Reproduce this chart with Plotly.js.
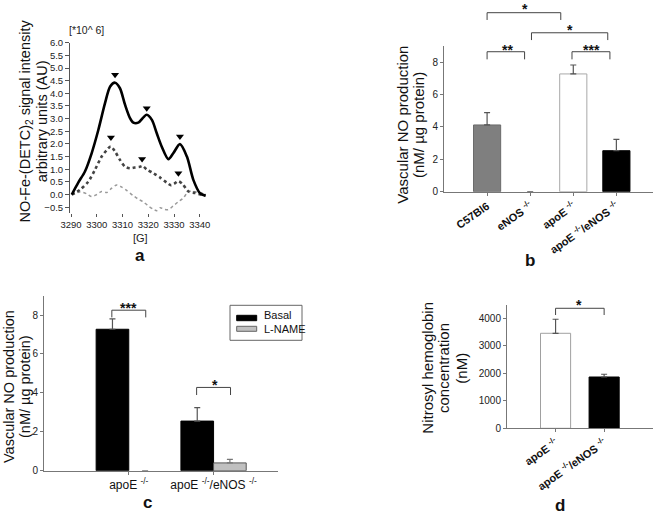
<!DOCTYPE html>
<html><head><meta charset="utf-8">
<script src="https://cdn.plot.ly/plotly-3.0.1.min.js"></script>
<style>html,body{margin:0;padding:0;background:#fff}#chart{width:662px;height:514px}</style>
</head><body><div id="chart"></div>
<script>
// ---------- Panel a: EPR spectra ----------
const fieldBlack = [3290.3,3292.8,3295.4,3298.0,3300.6,3303.2,3305.2,3307.1,3309.0,3311.0,3312.9,3314.2,3316.1,3318.1,3319.4,3321.4,3323.3,3325.2,3327.8,3329.7,3332.3,3335.0,3337.5,3340.1,3342.3];
const signalBlack = [0,0.47,0.91,1.63,2.55,3.61,4.27,4.42,4.2,3.54,3.02,2.84,2.84,3.05,3.15,2.95,2.42,1.9,1.40,1.63,1.99,1.5,0.58,0.05,-0.05];
const fieldDark = [3290.3,3293.5,3296.7,3299.3,3301.9,3303.9,3305.4,3307.1,3309.0,3311.0,3312.9,3314.8,3316.8,3317.8,3319.4,3322.0,3324.6,3327.2,3328.8,3330.0,3331.7,3333.4,3335.6,3338.2,3340.8,3342.1];
const signalDark = [0,0.19,0.51,0.98,1.5,1.76,1.9,1.7,1.37,1.1,1.04,1.07,1.1,1.13,0.99,0.84,0.67,0.47,0.37,0.42,0.53,0.4,0.12,0.06,-0.01,-0.04];
const fieldLight = [3290.3,3293.5,3296.1,3298.0,3300.0,3301.9,3303.9,3305.8,3307.8,3309.7,3311.6,3314.2,3316.1,3318.1,3320.0,3322.0,3323.3,3324.6,3326.1,3327.8,3329.7,3331.7,3333.6,3335.6,3337.5,3339.4,3341.4,3342.3];
const signalLight = [0,0.1,0.03,-0.08,0.0,0.12,0.08,0.25,0.38,0.29,0.16,-0.05,-0.18,-0.29,-0.45,-0.58,-0.64,-0.52,-0.58,-0.6,-0.45,-0.28,-0.14,0.12,0.12,0.08,0.05,0.02];
const peakField = [3307.1,3319.4,3332.3,3305.5,3317.6,3331.7];
const peakSignal = [4.73,3.41,2.29,2.25,1.40,0.84];
const fieldTicks = [3290,3300,3310,3320,3330,3340];

// ---------- Panel b ----------
const catsB = ['C57Bl6','eNOS <sup>-/-</sup>','apoE <sup>-/-</sup>','apoE <sup>-/-</sup>/eNOS <sup>-/-</sup>'];
const valsB = [4.12, 0, 7.27, 2.53];
const errB = [0.76, NaN, 0.55, 0.70];

// ---------- Panel c ----------
const catsC = ['apoE <sup>-/-</sup>','apoE <sup>-/-</sup>/eNOS <sup>-/-</sup>'];
const basalC = [7.27, 2.55];
const basalErrC = [0.53, 0.69];
const lnameC = [0, 0.40];
const lnameErrC = [NaN, 0.18];

// ---------- Panel d ----------
const catsD = ['apoE <sup>-/-</sup>','apoE <sup>-/-</sup>/eNOS <sup>-/-</sup>'];
const valsD = [3455, 1865];
const errD = [510, 100];

const W = 662, H = 514;
const FONT = 'Liberation Sans, Arial, sans-serif';
const fx = p => p / W;
const fy = p => 1 - p / H;
const idx = a => a.map((_, i) => i);
const zeros = a => a.map(() => 0);
const NONE = 'rgba(0,0,0,0)';

const traces = [
  {x: fieldLight, y: signalLight, type: 'scatter', mode: 'lines', xaxis: 'x', yaxis: 'y',
   line: {color: '#9a9a9a', width: 1.5, dash: 'dot', shape: 'spline', smoothing: 0.8}, showlegend: false},
  {x: fieldDark, y: signalDark, type: 'scatter', mode: 'lines', xaxis: 'x', yaxis: 'y',
   line: {color: '#444', width: 2.6, dash: 'dot', shape: 'spline', smoothing: 0.8}, showlegend: false},
  {x: fieldBlack, y: signalBlack, type: 'scatter', mode: 'lines', xaxis: 'x', yaxis: 'y',
   line: {color: '#000', width: 2.6, shape: 'spline', smoothing: 0.8}, showlegend: false},
  {x: peakField, y: peakSignal, type: 'scatter', mode: 'markers', xaxis: 'x', yaxis: 'y',
   marker: {symbol: 'triangle-down', size: 7, color: '#000'}, showlegend: false},

  {x: idx(catsB), y: valsB, type: 'bar', xaxis: 'x2', yaxis: 'y2', width: 0.63, showlegend: false,
   marker: {color: ['#7f7f7f', NONE, '#ffffff', '#000000'], line: {color: ['#6a6a6a', NONE, '#a8a8a8', '#000000'], width: 1}},
   error_y: {type: 'data', array: errB, arrayminus: zeros(errB), symmetric: false, color: '#555', thickness: 1.2, width: 3}},

  {x: idx(catsC), y: basalC, type: 'bar', name: 'Basal', xaxis: 'x3', yaxis: 'y3', showlegend: false,
   marker: {color: '#000', line: {color: '#000', width: 1}},
   error_y: {type: 'data', array: basalErrC, arrayminus: zeros(basalErrC), symmetric: false, color: '#555', thickness: 1.2, width: 3}},
  {x: idx(catsC), y: lnameC, type: 'bar', name: 'L-NAME', xaxis: 'x3', yaxis: 'y3', showlegend: false,
   marker: {color: '#c0c0c0', line: {color: [NONE, '#555'], width: 1}},
   error_y: {type: 'data', array: lnameErrC, arrayminus: zeros(lnameErrC), symmetric: false, color: '#777', thickness: 1.2, width: 3}},

  {x: idx(catsD), y: valsD, type: 'bar', xaxis: 'x4', yaxis: 'y4', width: 0.62, showlegend: false,
   marker: {color: ['#ffffff', '#000000'], line: {color: ['#a0a0a0', '#000000'], width: 1}},
   error_y: {type: 'data', array: errD, arrayminus: zeros(errD), symmetric: false, color: '#555', thickness: 1.2, width: 3}}
];

const tf = (size, extra) => Object.assign({family: FONT, size: size, color: '#222'}, extra || {});
const axBase = {showgrid: false, zeroline: false, showline: true, linecolor: '#777', linewidth: 1,
  ticks: 'outside', ticklen: 3, tickcolor: '#777', tickfont: tf(10)};

const layout = {
  width: W, height: H, margin: {l: 0, r: 0, t: 0, b: 0},
  paper_bgcolor: '#fff', plot_bgcolor: 'rgba(0,0,0,0)',
  font: {family: FONT, color: '#111'},
  barmode: 'group', bargap: 0.23, bargroupgap: 0,
  xaxis: Object.assign({}, axBase, {domain: [fx(70), fx(207.5)], range: [3289.6, 3343], anchor: 'y',
    showline: false, ticks: 'outside', ticklen: 3, tickcolor: '#555', tickvals: fieldTicks, tickangle: 0, tickfont: tf(9.5)}),
  yaxis: Object.assign({}, axBase, {domain: [fy(213), fy(42.7)], range: [-0.73, 6.0], anchor: 'x',
    dtick: 0.5, tick0: 0, tickformat: '.1f', ticklen: 4, linecolor: '#555', tickcolor: '#555', tickfont: tf(9.5)}),
  xaxis2: Object.assign({}, axBase, {domain: [fx(444), fx(653)], range: [-1, 3.85], anchor: 'y2',
    tickvals: idx(catsB), ticktext: catsB, tickangle: -35, tickfont: tf(11, {color: '#111', weight: 'bold'})}),
  yaxis2: Object.assign({}, axBase, {domain: [fy(191.7), fy(45.9)], range: [0, 9], anchor: 'x2', tickvals: [0, 2, 4, 6, 8]}),
  xaxis3: Object.assign({}, axBase, {domain: [fx(44), fx(278)], range: [-1, 1.76], anchor: 'y3',
    tickvals: idx(catsC), ticktext: catsC, tickangle: 0, tickfont: tf(12, {color: '#111'})}),
  yaxis3: Object.assign({}, axBase, {domain: [fy(470.7), fy(295.6)], range: [0, 9], anchor: 'x3', tickvals: [0, 2, 4, 6, 8]}),
  xaxis4: Object.assign({}, axBase, {domain: [fx(507), fx(652.7)], range: [-1, 2], anchor: 'y4',
    tickvals: idx(catsD), ticktext: catsD, tickangle: -35, tickfont: tf(11, {color: '#111', weight: 'bold'})}),
  yaxis4: Object.assign({}, axBase, {domain: [fy(428.3), fy(305.1)], range: [0, 4480], anchor: 'x4', tickvals: [0, 1000, 2000, 3000, 4000]}),
  shapes: [],
  annotations: []
};

const ann = layout.annotations, shp = layout.shapes;
function text(px, py, t, opts) {
  ann.push(Object.assign({x: fx(px), y: fy(py), xref: 'paper', yref: 'paper', text: t, showarrow: false,
    font: {family: FONT, size: 15, color: '#111'}, xanchor: 'center', yanchor: 'middle'}, opts || {}));
}
// y titles (one annotation per line)
text(25, 121.5, 'NO-Fe-(DETC)<sub>2</sub> signal intensity', {textangle: -90, font: {family: FONT, size: 14.5, color: '#111'}});
text(41.7, 121.5, 'arbitrary units (AU)', {textangle: -90, font: {family: FONT, size: 14.5, color: '#111'}});
text(401.7, 125, 'Vascular NO production', {textangle: -90});
text(418, 125, '(nM/ µg protein)', {textangle: -90});
text(9, 387, 'Vascular NO production', {textangle: -90, font: {family: FONT, size: 14.5, color: '#111'}});
text(25, 387, '(nM/ µg protein)', {textangle: -90, font: {family: FONT, size: 14.5, color: '#111'}});
text(426.7, 368, 'Nitrosyl hemoglobin', {textangle: -90});
text(443, 368, 'concentration', {textangle: -90});
text(460.7, 368, '(nM)', {textangle: -90});
// misc labels
text(67, 30, '[*10^ 6]', {xanchor: 'left', font: tf(10.5)});
text(140, 237.7, '[G]', {font: tf(11)});
text(140, 255, '<b>a</b>', {font: {family: FONT, size: 17, color: '#111'}});
text(530, 260, '<b>b</b>', {font: {family: FONT, size: 17, color: '#111'}});
text(147, 502, '<b>c</b>', {font: {family: FONT, size: 17, color: '#111'}});
text(560, 505, '<b>d</b>', {font: {family: FONT, size: 17, color: '#111'}});

// significance brackets
function bracket(xref, yref, x0, x1, yLow, yTop) {
  const st = {type: 'line', xref: xref, yref: yref, line: {color: '#444', width: 1}};
  shp.push(Object.assign({x0: x0, x1: x0, y0: yLow, y1: yTop}, st));
  shp.push(Object.assign({x0: x0, x1: x1, y0: yTop, y1: yTop}, st));
  shp.push(Object.assign({x0: x1, x1: x1, y0: yTop, y1: yLow}, st));
}
function star(xref, yref, x, y, t) {
  ann.push({x: x, y: y, xref: xref, yref: yref, text: '<b>' + t + '</b>', showarrow: false, yshift: -3,
    font: {family: FONT, size: 14, color: '#111'}, xanchor: 'center', yanchor: 'middle'});
}
const bTop = 9; // panel b axis top (for domain-fraction refs)
bracket('x2', 'y2 domain', 0, 1.71, 10.6 / bTop, 11.05 / bTop);
star('x2', 'y2 domain', 0.88, 11.46 / bTop, '*');
bracket('x2', 'y2 domain', 1.03, 2.8, 9.36 / bTop, 9.81 / bTop);
star('x2', 'y2 domain', 1.93, 10.19 / bTop, '*');
bracket('x2', 'y2', 0, 0.87, 8.17, 8.64);
star('x2', 'y2 domain', 0.48, 8.95 / bTop, '**');
bracket('x2', 'y2', 1.97, 2.85, 8.17, 8.64);
star('x2', 'y2 domain', 2.42, 8.95 / bTop, '***');

bracket('x3', 'y3', -0.2, 0.2, 7.88, 8.25);
star('x3', 'y3', 0, 8.51, '***');
bracket('x3', 'y3', 0.8, 1.2, 3.89, 4.28);
star('x3', 'y3', 1.02, 4.57, '*');

bracket('x4', 'y4', 0, 1, 4120, 4364);
star('x4', 'y4 domain', 0.49, 4604 / 4480, '*');

// manual legend for panel c
shp.push({type: 'rect', xref: 'paper', yref: 'paper', x0: fx(230), x1: fx(302), y0: fy(340.3), y1: fy(305.3), line: {color: '#666', width: 1}, fillcolor: NONE});
shp.push({type: 'rect', xref: 'paper', yref: 'paper', x0: fx(236.7), x1: fx(256.7), y0: fy(320.7), y1: fy(315.3), line: {color: '#000', width: 1}, fillcolor: '#000'});
shp.push({type: 'rect', xref: 'paper', yref: 'paper', x0: fx(236.7), x1: fx(256.7), y0: fy(331.3), y1: fy(326.3), line: {color: '#666', width: 1}, fillcolor: '#c0c0c0'});
text(261.7, 314.5, 'Basal', {xanchor: 'left', font: tf(11, {color: '#111'})});
text(261.7, 328.7, 'L-NAME', {xanchor: 'left', font: tf(11, {color: '#111'})});

Plotly.newPlot('chart', traces, layout, {displayModeBar: false, staticPlot: true});
</script>
</body></html>
